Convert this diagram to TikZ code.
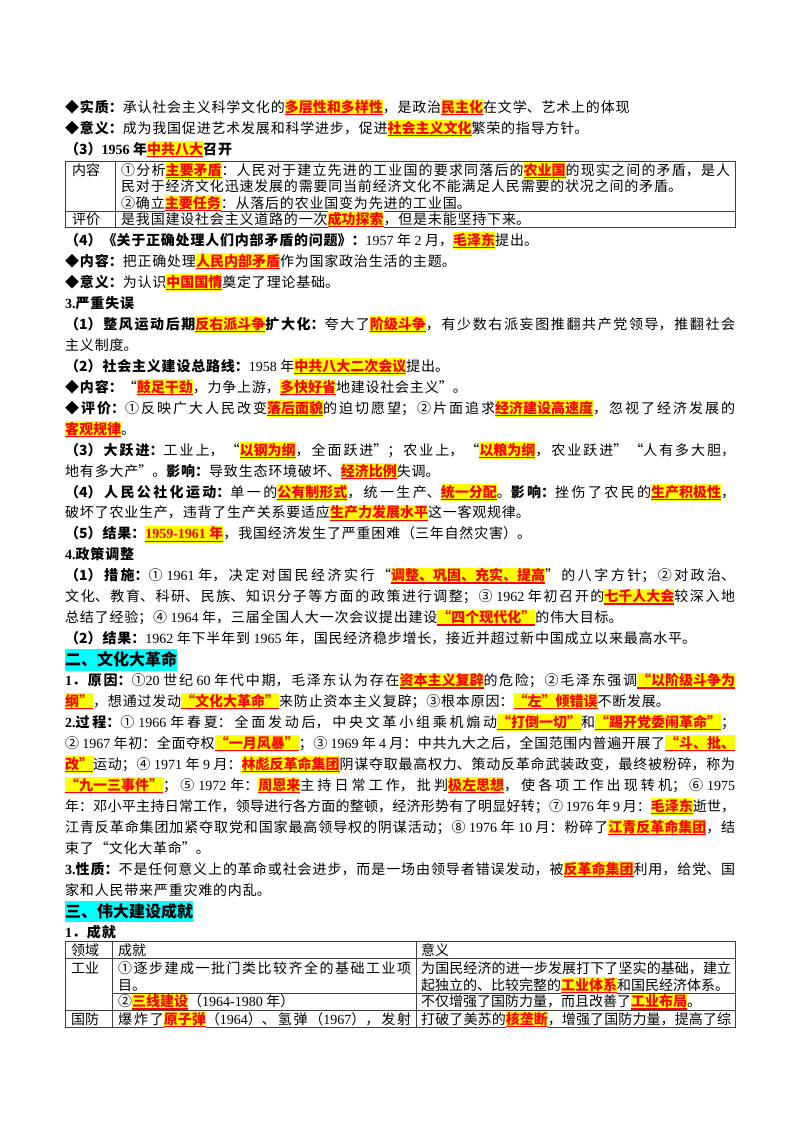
\documentclass[tikz,border=0pt]{standalone}
\usepackage{fontspec}
\setmainfont{Noto Sans CJK SC}
\newfontfamily\latf{Liberation Serif}
\XeTeXlinebreaklocale "zh"
\XeTeXlinebreakskip=0.8pt plus 8pt minus 0.8pt
\hbadness=10000 \vbadness=10000 \hfuzz=20pt
\definecolor{hly}{HTML}{FFFF00}
\definecolor{hlr}{HTML}{FF0000}
\definecolor{hcy}{HTML}{00FFFF}
\newcommand\B[1]{{\bfseries #1}}
\newcommand\nm[1]{{\latf #1}}
\newcommand\hl[1]{\leavevmode{\setbox0=\hbox{{\bfseries\color{hlr}#1}}%
\rlap{{\color{hly}\rule[-0.26em]{\wd0}{1.2em}}}%
\rlap{{\color{hlr}\rule[-0.2em]{\wd0}{0.08em}}}%
\box0}}
\newcommand\cy[1]{\leavevmode{\setbox0=\hbox{#1}%
\rlap{{\color{hcy}\rule[-0.3em]{\wd0}{1.32em}}}\box0}}
\newcommand\fs{\fontsize{14pt}{21pt}\selectfont}
\newcommand\hs{\fontsize{16pt}{21pt}\selectfont\bfseries}
\newcommand\JL[4]{\node[tx] (#1) at (#2) {\parbox[t]{#3}{\parfillskip=0pt\relax #4\par}};}
\newcommand\RL[4]{\node[tx] (#1) at (#2) {\parbox[t]{#3}{#4\par}};}
\newcommand\TL[4]{\node[tx] (#1) at (#2) {\parbox[t]{#3}{\XeTeXlinebreakskip=0pt plus 8pt\relax #4\par}};}
\begin{document}
\begin{tikzpicture}[x=1pt,y=-1pt,
  tx/.style={anchor=base west,inner sep=0pt,font=\fs},
  tb/.style={draw=black!75,line width=0.9pt}]
\useasboundingbox (0,0) rectangle (800,1132);
\fill[white] (0,0) rectangle (800,1132);
% top lines
\RL{l1}{65,112.3}{670pt}{\B{◆实质：}承认社会主义科学文化的\hl{多层性和多样性}，是政治\hl{民主化}在文学、艺术上的体现}
\RL{l2}{65,133.3}{670pt}{\B{◆意义：}成为我国促进艺术发展和科学进步，促进\hl{社会主义文化}繁荣的指导方针。}
\RL{l3}{65,154.3}{670pt}{\B{（3）\nm{1956 }年}\hl{中共八大}\B{召开}}
% table 1
\draw[tb] (65,161) rectangle (735,227);
\draw[tb] (115,161) -- (115,227);
\draw[tb] (65,211) -- (735,211);
\node[tx] (t1a) at (72,175.3) {内容};
\node[tx] (t1b) at (72,224.3) {评价};
\JL{t1c}{121,175.3}{609pt}{①分析\hl{主要矛盾}：人民对于建立先进的工业国的要求同落后的\hl{农业国}的现实之间的矛盾，是人}
\RL{t1d}{121,191.8}{609pt}{民对于经济文化迅速发展的需要同当前经济文化不能满足人民需要的状况之间的矛盾。}
\RL{t1e}{121,208.3}{609pt}{②确立\hl{主要任务}：从落后的农业国变为先进的工业国。}
\RL{t1f}{121,224.3}{609pt}{是我国建设社会主义道路的一次\hl{成功探索}，但是未能坚持下来。}
% body
\RL{l4}{65,245.3}{670pt}{\B{（4）《关于正确处理人们内部矛盾的问题》：}\nm{1957 }年\nm{ 2 }月，\hl{毛泽东}提出。}
\RL{l5}{65,266.3}{670pt}{\B{◆内容：}把正确处理\hl{人民内部矛盾}作为国家政治生活的主题。}
\RL{l6}{65,287.2}{670pt}{\B{◆意义：}为认识\hl{中国国情}奠定了理论基础。}
\RL{l7}{65,308.2}{670pt}{\B{\nm{3.}严重失误}}
\JL{l8}{65,329.2}{670pt}{\B{（1）整风运动后期}\hl{反右派斗争}\B{扩大化：}夸大了\hl{阶级斗争}，有少数右派妄图推翻共产党领导，推翻社会}
\RL{l9}{65,350.2}{670pt}{主义制度。}
\RL{l10}{65,371.1}{670pt}{\B{（2）社会主义建设总路线：}\nm{1958 }年\hl{中共八大二次会议}提出。}
\RL{l11}{65,392.1}{670pt}{\B{◆内容：}“\hl{鼓足干劲}，力争上游，\hl{多快好省}地建设社会主义”。}
\JL{l12}{65,413.1}{670pt}{\B{◆评价：}①反映广大人民改变\hl{落后面貌}的迫切愿望；②片面追求\hl{经济建设高速度}，忽视了经济发展的}
\RL{l13}{65,434.0}{670pt}{\hl{客观规律}。}
\JL{l14}{65,455.0}{670pt}{\B{（3）大跃进：}工业上，“\hl{以钢为纲}，全面跃进”；农业上，“\hl{以粮为纲}，农业跃进”“人有多大胆，}
\RL{l15}{65,476.0}{670pt}{地有多大产”。\B{影响：}导致生态环境破坏、\hl{经济比例}失调。}
\JL{l16}{65,497.0}{670pt}{\B{（4）人民公社化运动：}单一的\hl{公有制形式}，统一生产、\hl{统一分配}。\B{影响：}挫伤了农民的\hl{生产积极性}，}
\RL{l17}{65,517.9}{670pt}{破坏了农业生产，违背了生产关系要适应\hl{生产力发展水平}这一客观规律。}
\RL{l18}{65,538.9}{670pt}{\B{（5）结果：}\hl{\nm{1959-1961 }年}，我国经济发生了严重困难（三年自然灾害）。}
\RL{l19}{65,559.9}{670pt}{\B{\nm{4.}政策调整}}
\JL{l20}{65,580.8}{670pt}{\B{（1）措施：}①\nm{ 1961 }年，决定对国民经济实行“\hl{调整、巩固、充实、提高}”的八字方针；②对政治、}
\JL{l21}{65,601.8}{670pt}{文化、教育、科研、民族、知识分子等方面的政策进行调整；③\nm{ 1962 }年初召开的\hl{七千人大会}较深入地}
\RL{l22}{65,622.8}{670pt}{总结了经验；④\nm{ 1964 }年，三届全国人大一次会议提出建设\hl{“四个现代化”}的伟大目标。}
\RL{l23}{65,643.7}{670pt}{\B{（2）结果：}\nm{1962 }年下半年到\nm{ 1965 }年，国民经济稳步增长，接近并超过新中国成立以来最高水平。}
\node[tx,font=\hs] (h2) at (65,665.8) {\cy{二、文化大革命}};
\JL{l24}{65,685.7}{670pt}{\B{\nm{1}．原因：}①\nm{20 }世纪\nm{ 60 }年代中期，毛泽东认为存在\hl{资本主义复辟}的危险；②毛泽东强调\hl{“以阶级斗争为}}
\RL{l25}{65,706.6}{670pt}{\hl{纲”}，想通过发动\hl{“文化大革命”}来防止资本主义复辟；③根本原因：\hl{“左”倾错误}不断发展。}
\JL{l26}{65,727.6}{670pt}{\B{\nm{2.}过程：}①\nm{ 1966 }年春夏：全面发动后，中央文革小组乘机煽动\hl{“打倒一切”}和\hl{“踢开党委闹革命”}；}
\JL{l27}{65,748.6}{670pt}{②\nm{ 1967 }年初：全面夺权\hl{“一月风暴”}；③\nm{ 1969 }年\nm{ 4 }月：中共九大之后，全国范围内普遍开展了\hl{“斗、批、}}
\JL{l28}{65,769.5}{670pt}{\hl{改”}运动；④\nm{ 1971 }年\nm{ 9 }月：\hl{林彪反革命集团}阴谋夺取最高权力、策动反革命武装政变，最终被粉碎，称为}
\JL{l29}{65,790.5}{670pt}{\hl{“九一三事件”}；⑤\nm{ 1972 }年：\hl{周恩来}主持日常工作，批判\hl{极左思想}，使各项工作出现转机；⑥\nm{ 1975}}
\JL{l30}{65,811.5}{670pt}{年：邓小平主持日常工作，领导进行各方面的整顿，经济形势有了明显好转；⑦\nm{ 1976 }年\nm{ 9 }月：\hl{毛泽东}逝世，}
\JL{l31}{65,832.5}{670pt}{江青反革命集团加紧夺取党和国家最高领导权的阴谋活动；⑧\nm{ 1976 }年\nm{ 10 }月：粉碎了\hl{江青反革命集团}，结}
\RL{l32}{65,853.4}{670pt}{束了“文化大革命”。}
\JL{l33}{65,874.4}{670pt}{\B{\nm{3.}性质：}不是任何意义上的革命或社会进步，而是一场由领导者错误发动，被\hl{反革命集团}利用，给党、国}
\RL{l34}{65,895.4}{670pt}{家和人民带来严重灾难的内乱。}
\node[tx,font=\hs] (h3) at (65,917.1) {\cy{三、伟大建设成就}};
\RL{l35}{65,937.3}{670pt}{\B{\nm{1}．成就}}
% table 2
\draw[tb] (65,941) rectangle (735,1027);
\draw[tb] (112,941) -- (112,1027);
\draw[tb] (416,941) -- (416,1027);
\draw[tb] (65,958) -- (735,958);
\draw[tb] (112,993) -- (735,993);
\draw[tb] (65,1010) -- (735,1010);
\node[tx] (t2a) at (71,955.3) {领域};
\node[tx] (t2b) at (118,955.3) {成就};
\node[tx] (t2c) at (421,955.3) {意义};
\node[tx] (t2d) at (71,973.3) {工业};
\JL{t2e}{118,973.3}{293pt}{①逐步建成一批门类比较齐全的基础工业项}
\TL{t2f}{118,990.3}{293pt}{目。}
\JL{t2g}{421,973.3}{310pt}{为国民经济的进一步发展打下了坚实的基础，建立}
\TL{t2h}{421,990.3}{310pt}{起独立的、比较完整的\hl{工业体系}和国民经济体系。}
\TL{t2i}{118,1006.8}{293pt}{②\hl{三线建设}（\nm{1964-1980 }年）}
\TL{t2j}{421,1006.8}{310pt}{不仅增强了国防力量，而且改善了\hl{工业布局}。}
\node[tx] (t2k) at (71,1024.3) {国防};
\JL{t2l}{118,1024.3}{293pt}{爆炸了\hl{原子弹}（\nm{1964}）、氢弹（\nm{1967}），发射}
\JL{t2m}{421,1024.3}{310pt}{打破了美苏的\hl{核垄断}，增强了国防力量，提高了综}
\end{tikzpicture}
\end{document}
